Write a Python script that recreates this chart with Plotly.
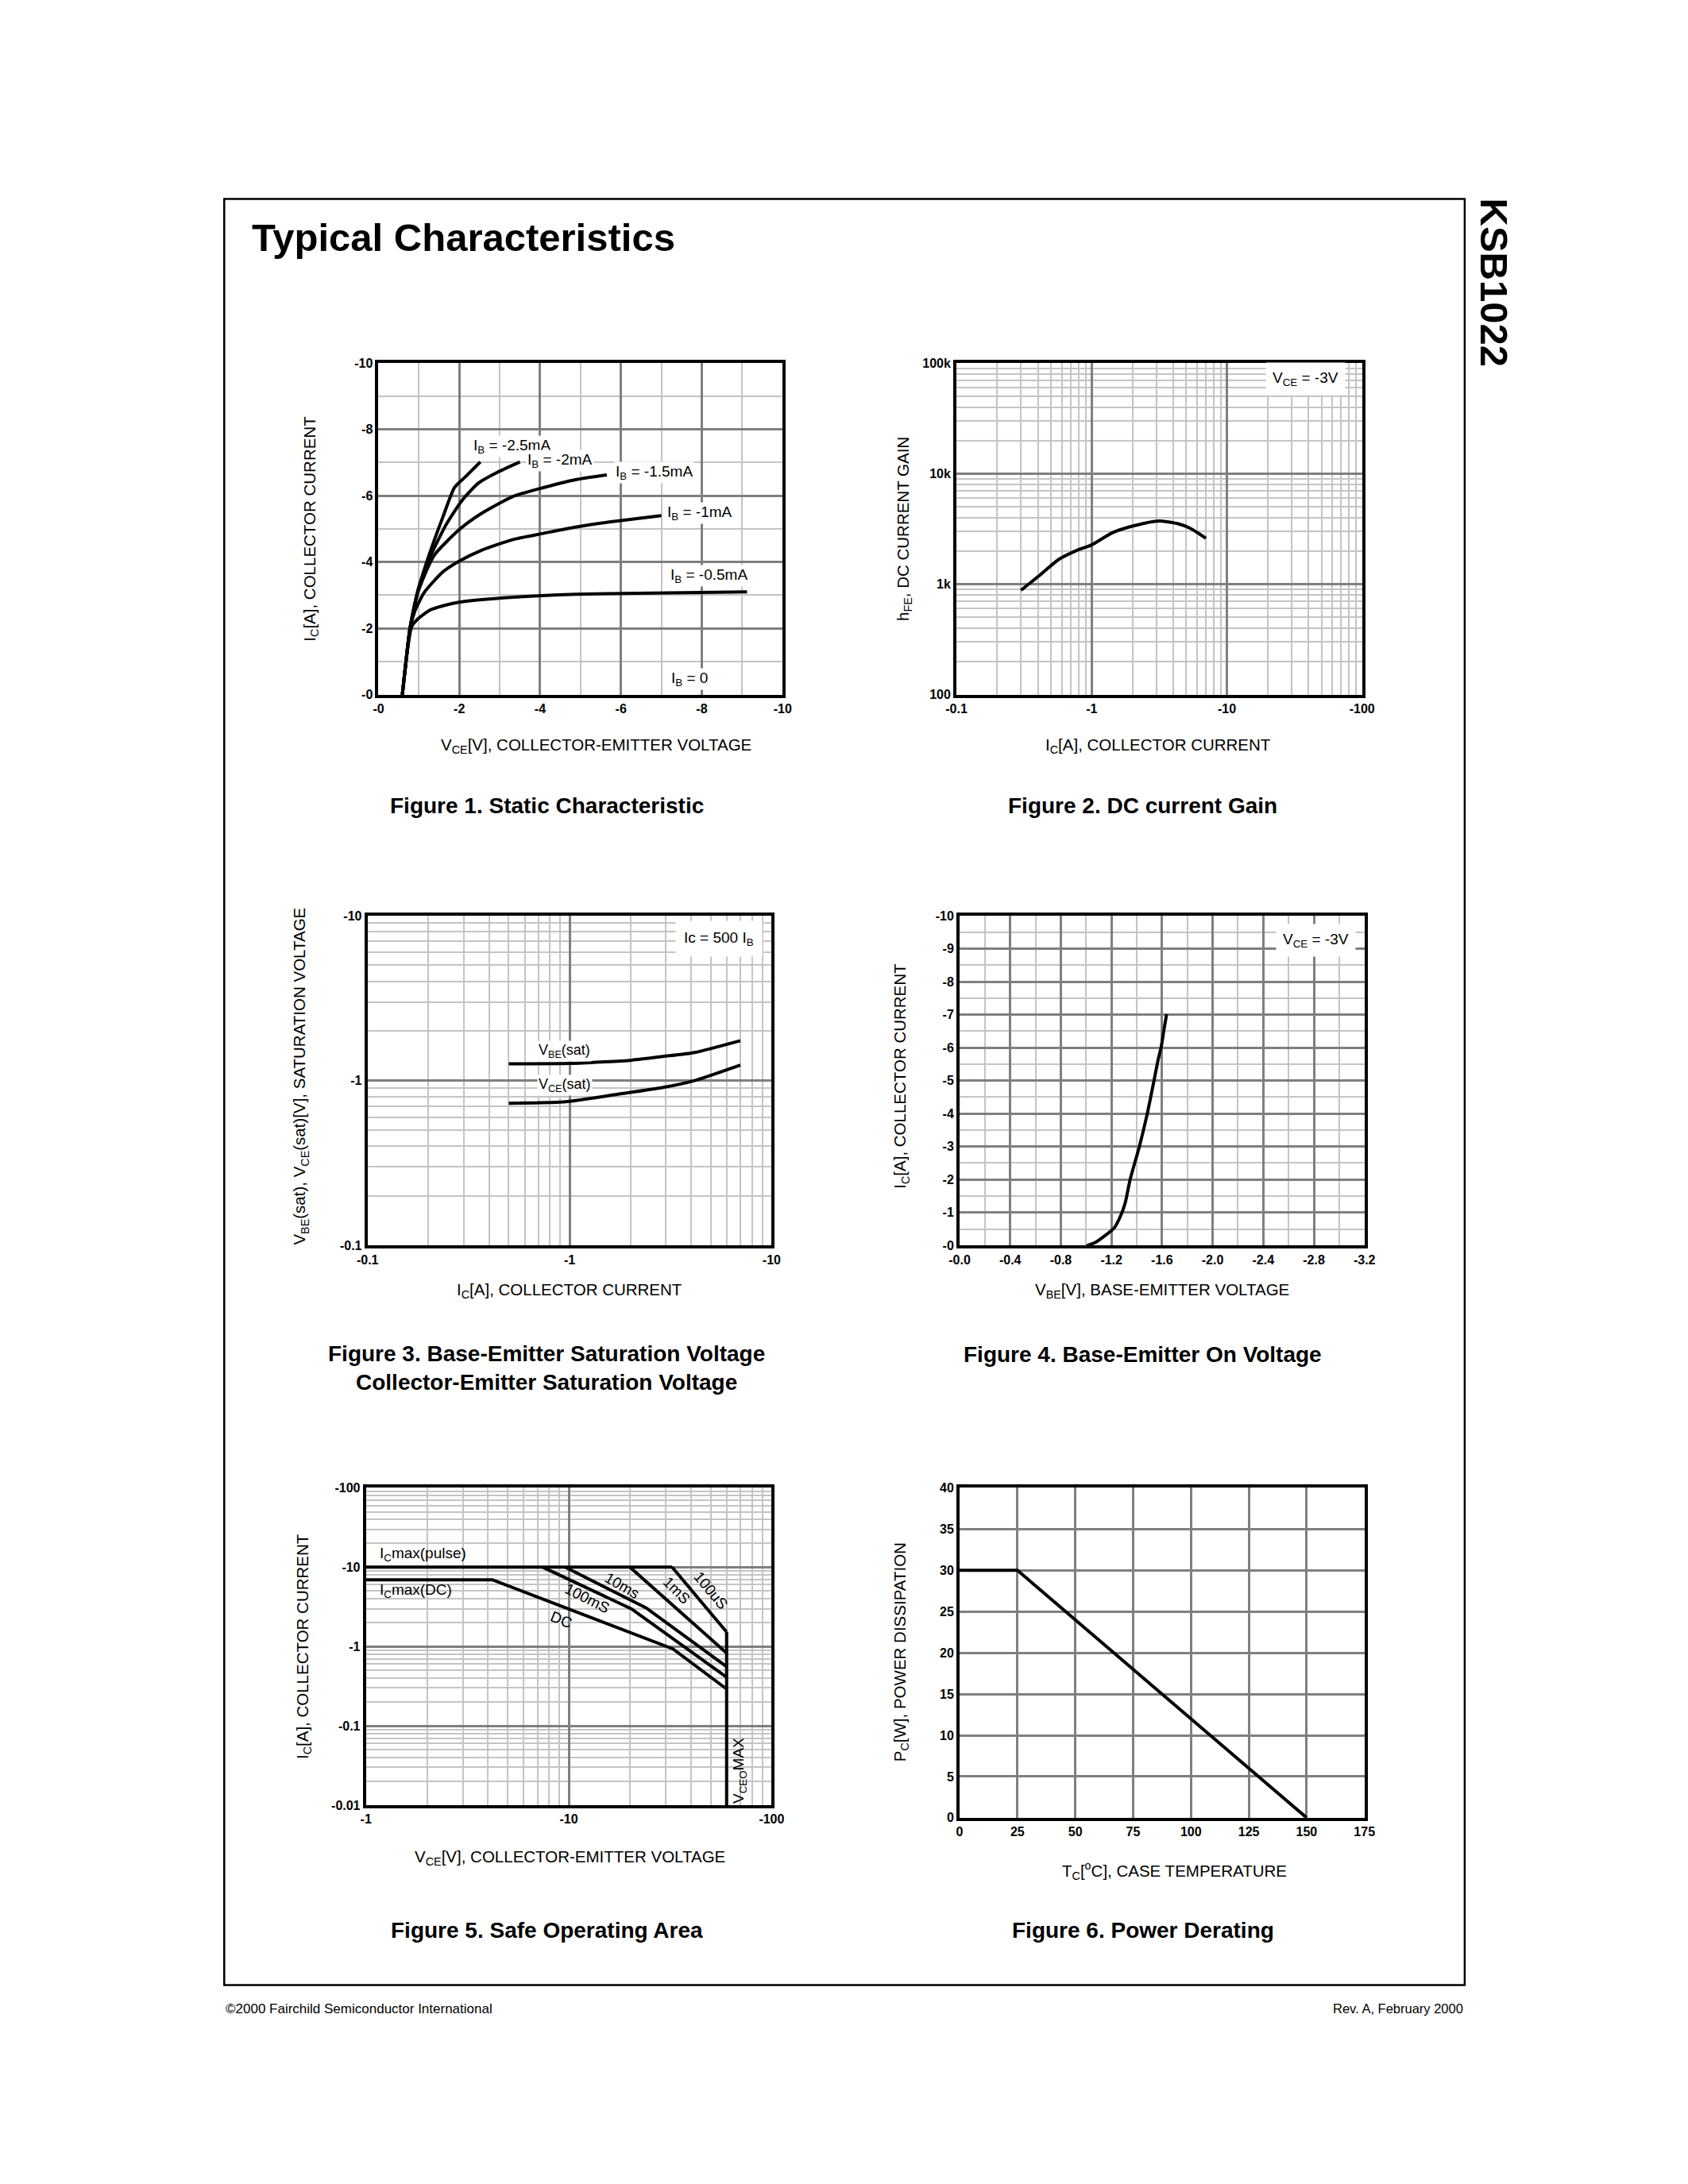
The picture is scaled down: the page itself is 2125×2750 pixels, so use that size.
import math
import plotly.graph_objects as go

W, H = 2125, 2750
FONT = "Liberation Sans, Arial, Helvetica, sans-serif"
TICKFONT = "Liberation Sans Narrow, Arial Narrow, Liberation Sans, Arial, sans-serif"

# ---------------- data (magnitudes; axis labels carry the sign) ----------------
# Figure 1: static characteristic, |VCE| [V] vs |IC| [A]
f1_ib25_vce = [0.59, 0.68, 0.78, 0.98, 1.29, 1.60, 1.88, 2.15, 2.52]
f1_ib25_ic = [0.0, 1.0, 2.0, 3.16, 4.35, 5.38, 6.25, 6.57, 7.02]
f1_ib20_vce = [0.59, 0.68, 0.78, 0.98, 1.29, 1.68, 2.07, 2.47, 2.93, 3.50]
f1_ib20_ic = [0.0, 1.0, 2.0, 3.16, 4.19, 5.14, 5.86, 6.38, 6.70, 7.02]
f1_ib15_vce = [0.59, 0.68, 0.78, 0.98, 1.37, 2.00, 2.54, 3.33, 4.10, 4.90, 5.65]
f1_ib15_ic = [0.0, 1.0, 2.0, 3.10, 4.19, 4.98, 5.46, 5.98, 6.25, 6.49, 6.63]
f1_ib10_vce = [0.59, 0.68, 0.78, 0.90, 1.13, 1.60, 2.00, 2.54, 3.33, 4.10, 4.90, 5.67, 7.00]
f1_ib10_ic = [0.0, 1.0, 2.0, 2.52, 3.08, 3.71, 4.03, 4.35, 4.68, 4.87, 5.06, 5.20, 5.40]
f1_ib05_vce = [0.59, 0.68, 0.82, 0.98, 1.29, 1.60, 2.00, 3.33, 4.90, 6.46, 9.12]
f1_ib05_ic = [0.0, 1.0, 2.05, 2.29, 2.56, 2.68, 2.79, 2.94, 3.03, 3.06, 3.10]
f1_labels = ["I<sub>B</sub> = -2.5mA", "I<sub>B</sub> = -2mA", "I<sub>B</sub> = -1.5mA",
             "I<sub>B</sub> = -1mA", "I<sub>B</sub> = -0.5mA", "I<sub>B</sub> = 0"]
f1_label_x = [2.31, 3.64, 5.83, 7.10, 7.18, 7.20]
f1_label_y = [7.50, 7.07, 6.71, 5.48, 3.58, 0.48]

# Figure 2: DC current gain, |IC| [A] vs hFE
f2_ic = [0.30, 0.41, 0.567, 0.78, 1.0, 1.41, 2.05, 3.14, 4.32, 5.36, 7.0]
f2_hfe = [880, 1195, 1665, 2025, 2265, 2905, 3375, 3730, 3530, 3195, 2597]

# Figure 3: saturation voltages, |IC| [A] vs |V| [V]
f3_ic_be = [0.5, 1.0, 2.03, 2.9, 4.16, 7.0]
f3_vbe = [1.265, 1.27, 1.33, 1.40, 1.48, 1.745]
f3_ic_ce = [0.5, 0.857, 1.0, 1.69, 2.9, 4.16, 7.0]
f3_vce = [0.728, 0.738, 0.748, 0.822, 0.908, 1.0, 1.24]

# Figure 4: base-emitter on voltage, |VBE| [V] vs |IC| [A]
f4_vbe = [1.006, 1.075, 1.149, 1.223, 1.273, 1.31, 1.347, 1.42, 1.483, 1.532, 1.569, 1.594, 1.614, 1.636]
f4_ic = [0.0, 0.1, 0.30, 0.54, 0.905, 1.31, 1.99, 2.99, 3.99, 4.91, 5.63, 6.03, 6.51, 7.01]

# Figure 5: safe operating area, |VCE| [V] vs |IC| [A]
f5_pulse_v = [1, 32.3]
f5_pulse_i = [10, 10]
f5_dc_v = [1, 4.2, 32.6, 60]
f5_dc_i = [6.93, 6.93, 0.934, 0.291]
f5_100ms_v = [7.45, 20.4, 60]
f5_100ms_i = [10, 2.97, 0.41]
f5_10ms_v = [9.6, 24.0, 60]
f5_10ms_i = [10, 3.08, 0.556]
f5_1ms_v = [20.0, 60]
f5_1ms_i = [10, 0.827]
f5_100us_v = [32.3, 60]
f5_100us_i = [10, 1.52]
f5_vceo_v = [60, 60]
f5_vceo_i = [0.01, 1.52]

# Figure 6: power derating, TC [degC] vs PC [W]
f6_tc = [0, 25, 150]
f6_pc = [30, 30, 0]

# ---------------- layout helpers ----------------
def px_x(x):
    return x / W

def px_y(y):
    return 1 - y / H

def log_minor(e0, e1):
    return [m * 10 ** e for e in range(e0, e1) for m in range(2, 10)]

MAJOR = "#7f7f7f"
MINOR = "#c4c4c4"

fig = go.Figure()

def add_axes(n, box, xcfg, ycfg):
    x0, x1, y0, y1 = box
    common = dict(showline=True, mirror=True, linecolor="black", linewidth=4,
                  ticks="", zeroline=False, showgrid=True, gridcolor=MAJOR, gridwidth=3,
                  tickfont=dict(family=TICKFONT, size=16, color="black", weight="bold"),
                  tickmode="array", fixedrange=True)
    xa = dict(common, domain=[px_x(x0), px_x(x1)], anchor="y%d" % n if n > 1 else "y", **xcfg)
    ya = dict(common, domain=[px_y(y1), px_y(y0)], anchor="x%d" % n if n > 1 else "x", **ycfg)
    key = "" if n == 1 else str(n)
    fig.update_layout(**{"xaxis" + key: xa, "yaxis" + key: ya})

def minor(vals, color=MINOR, width=1.5):
    return dict(tickmode="array", tickvals=vals, showgrid=True, gridcolor=color, gridwidth=width, ticks="")

LINE = dict(color="black", width=4)
SPL = dict(color="black", width=4, shape="spline", smoothing=0.6)
AF = dict(family=FONT, size=19, color="black")

# ---------------- Figure 1 ----------------
B1 = (461, 977, 444, 864)
add_axes(1, B1,
         dict(range=[0, 10], tickvals=[0, 2, 4, 6, 8, 10],
              ticktext=["-0", "-2", "-4", "-6", "-8", "-10"], minor=minor([1, 3, 5, 7, 9])),
         dict(range=[0, 10], tickvals=[0, 2, 4, 6, 8, 10],
              ticktext=["-0", "-2", "-4", "-6", "-8", "-10"], minor=minor([1, 3, 5, 7, 9])))
for xs, ys in [(f1_ib25_vce, f1_ib25_ic), (f1_ib20_vce, f1_ib20_ic), (f1_ib15_vce, f1_ib15_ic),
               (f1_ib10_vce, f1_ib10_ic), (f1_ib05_vce, f1_ib05_ic)]:
    fig.add_trace(go.Scatter(x=xs, y=ys, mode="lines", line=SPL,
                             xaxis="x", yaxis="y", showlegend=False, hoverinfo="skip"))
for t, lx, ly in zip(f1_labels, f1_label_x, f1_label_y):
    fig.add_annotation(x=lx, y=ly, xref="x", yref="y", text=t, showarrow=False, xanchor="left",
                       yanchor="middle", bgcolor="white", borderpad=1, font=AF)

# ---------------- Figure 2 ----------------
B2 = (1199, 1717, 444, 864)
add_axes(2, B2,
         dict(type="log", range=[-1, 2], tickvals=[0.1, 1, 10, 100],
              ticktext=["-0.1", "-1", "-10", "-100"], minor=minor(log_minor(-1, 2))),
         dict(type="log", range=[2, 5], tickvals=[100, 1000, 10000, 100000],
              ticktext=["100", "1k", "10k", "100k"], minor=minor(log_minor(2, 5))))
fig.add_trace(go.Scatter(x=f2_ic, y=f2_hfe, mode="lines", line=SPL,
                         xaxis="x2", yaxis="y2", showlegend=False, hoverinfo="skip"))
fig.add_annotation(x=math.log10(38), y=math.log10(72000), xref="x2", yref="y2",
                   text="V<sub>CE</sub> = -3V", showarrow=False, bgcolor="white", borderpad=8, font=AF)

# ---------------- Figure 3 ----------------
B3 = (447, 963, 1144, 1562)
add_axes(3, B3,
         dict(type="log", range=[-1, 1], tickvals=[0.1, 1, 10],
              ticktext=["-0.1", "-1", "-10"], minor=minor(log_minor(-1, 1))),
         dict(type="log", range=[-1, 1], tickvals=[0.1, 1, 10],
              ticktext=["-0.1", "-1", "-10"], minor=minor(log_minor(-1, 1))))
fig.add_trace(go.Scatter(x=f3_ic_be, y=f3_vbe, mode="lines", line=SPL,
                         xaxis="x3", yaxis="y3", showlegend=False, hoverinfo="skip"))
fig.add_trace(go.Scatter(x=f3_ic_ce, y=f3_vce, mode="lines", line=SPL,
                         xaxis="x3", yaxis="y3", showlegend=False, hoverinfo="skip"))
fig.add_annotation(x=math.log10(0.69), y=math.log10(1.51), xref="x3", yref="y3", text="V<sub>BE</sub>(sat)",
                   showarrow=False, xanchor="left", bgcolor="white", borderpad=1,
                   font=dict(AF, size=18))
fig.add_annotation(x=math.log10(0.69), y=math.log10(0.937), xref="x3", yref="y3", text="V<sub>CE</sub>(sat)",
                   showarrow=False, xanchor="left", bgcolor="white", borderpad=1,
                   font=dict(AF, size=18))
fig.add_annotation(x=math.log10(9.0), y=math.log10(7.27), xref="x3", yref="y3", text="Ic = 500 I<sub>B</sub>",
                   showarrow=False, xanchor="right", bgcolor="white", borderpad=10, font=AF)

# ---------------- Figure 4 ----------------
B4 = (1203, 1720, 1144, 1562)
x4 = [0.0, 0.4, 0.8, 1.2, 1.6, 2.0, 2.4, 2.8, 3.2]
x4_text = ["-0.0", "-0.4", "-0.8", "-1.2", "-1.6", "-2.0", "-2.4", "-2.8", "-3.2"]
y4 = list(range(0, 11))
y4_text = ["-%d" % v for v in y4]
add_axes(4, B4,
         dict(range=[0, 3.2], tickvals=x4, ticktext=x4_text,
              minor=minor([0.2, 0.6, 1.0, 1.4, 1.8, 2.2, 2.6, 3.0])),
         dict(range=[0, 10], tickvals=y4, ticktext=y4_text,
              minor=minor([v + 0.5 for v in range(0, 10)])))
fig.add_trace(go.Scatter(x=f4_vbe, y=f4_ic, mode="lines", line=SPL,
                         xaxis="x4", yaxis="y4", showlegend=False, hoverinfo="skip"))
fig.add_annotation(x=2.817, y=9.24, xref="x4", yref="y4", text="V<sub>CE</sub> = -3V",
                   showarrow=False, bgcolor="white", borderpad=8, font=AF)

# ---------------- Figure 5 ----------------
B5 = (445, 963, 1869, 2271)
add_axes(5, B5,
         dict(type="log", range=[0, 2], tickvals=[1, 10, 100],
              ticktext=["-1", "-10", "-100"], minor=minor(log_minor(0, 2))),
         dict(type="log", range=[-2, 2], tickvals=[0.01, 0.1, 1, 10, 100],
              ticktext=["-0.01", "-0.1", "-1", "-10", "-100"], minor=minor(log_minor(-2, 2))))
for xs, ys in [(f5_pulse_v, f5_pulse_i), (f5_dc_v, f5_dc_i), (f5_100ms_v, f5_100ms_i),
               (f5_10ms_v, f5_10ms_i), (f5_1ms_v, f5_1ms_i), (f5_100us_v, f5_100us_i),
               (f5_vceo_v, f5_vceo_i)]:
    fig.add_trace(go.Scatter(x=xs, y=ys, mode="lines", line=LINE,
                             xaxis="x5", yaxis="y5", showlegend=False, hoverinfo="skip"))
f5_ann = [("I<sub>C</sub>max(pulse)", 1.15, 14.6, 0, "left"),
          ("I<sub>C</sub>max(DC)", 1.15, 5.06, 0, "left"),
          ("10ms", 18.3, 5.9, 30, "center"),
          ("100mS", 12.3, 4.03, 27, "center"),
          ("DC", 9.2, 2.19, 22, "center"),
          ("1mS", 34.0, 5.06, 45, "center"),
          ("100uS", 50.0, 5.06, 50, "center"),
          ("V<sub>CEO</sub>MAX", 69.5, 0.027, -90, "center")]
for t, ax_, ay_, ang, xa in f5_ann:
    fig.add_annotation(x=math.log10(ax_), y=math.log10(ay_), xref="x5", yref="y5", text=t,
                       showarrow=False, textangle=ang, xanchor=xa, font=AF)

# ---------------- Figure 6 ----------------
B6 = (1203, 1720, 1869, 2287)
add_axes(6, B6,
         dict(range=[0, 175], tickvals=[0, 25, 50, 75, 100, 125, 150, 175],
              ticktext=["0", "25", "50", "75", "100", "125", "150", "175"]),
         dict(range=[0, 40], tickvals=[0, 5, 10, 15, 20, 25, 30, 35, 40],
              ticktext=["0", "5", "10", "15", "20", "25", "30", "35", "40"]))
fig.add_trace(go.Scatter(x=f6_tc, y=f6_pc, mode="lines", line=LINE,
                         xaxis="x6", yaxis="y6", showlegend=False, hoverinfo="skip"))

# ---------------- axis titles & captions ----------------
TF = dict(family=FONT, size=20.5, color="black")
CF = dict(family=FONT, size=28, color="black", weight="bold")

def paper_text(text, x, y, font, angle=0, xanchor="center"):
    fig.add_annotation(x=px_x(x), y=px_y(y), xref="paper", yref="paper", text=text,
                       showarrow=False, textangle=angle, xanchor=xanchor, yanchor="middle", font=font)

# x titles
paper_text("V<sub>CE</sub>[V], COLLECTOR-EMITTER VOLTAGE", 739, 929, TF)
paper_text("I<sub>C</sub>[A], COLLECTOR CURRENT", 1457, 929, TF)
paper_text("I<sub>C</sub>[A], COLLECTOR CURRENT", 705, 1619, TF)
paper_text("V<sub>BE</sub>[V], BASE-EMITTER VOLTAGE", 1462, 1619, TF)
paper_text("V<sub>CE</sub>[V], COLLECTOR-EMITTER VOLTAGE", 705, 2337, TF)
paper_text("T<sub>C</sub>[<sup>o</sup>C], CASE TEMPERATURE", 1477, 2354, TF)
# y titles
paper_text("I<sub>C</sub>[A], COLLECTOR CURRENT", 374, 654, TF, -90)
paper_text("h<sub>FE</sub>, DC CURRENT GAIN", 1132, 654, TF, -90)
paper_text("V<sub>BE</sub>(sat), V<sub>CE</sub>(sat)[V], SATURATION VOLTAGE", 361, 1347, TF, -90)
paper_text("I<sub>C</sub>[A], COLLECTOR CURRENT", 1128, 1347, TF, -90)
paper_text("I<sub>C</sub>[A], COLLECTOR CURRENT", 365, 2070, TF, -90)
paper_text("P<sub>C</sub>[W], POWER DISSIPATION", 1128, 2077, TF, -90)
# captions
paper_text("Figure 1. Static Characteristic", 676, 1005, CF)
paper_text("Figure 2. DC current Gain", 1437, 1005, CF)
paper_text("Figure 3. Base-Emitter Saturation Voltage<br>Collector-Emitter Saturation Voltage", 676, 1717, CF)
paper_text("Figure 4. Base-Emitter On Voltage", 1437, 1700, CF)
paper_text("Figure 5. Safe Operating Area", 676, 2430, CF)
paper_text("Figure 6. Power Derating", 1437, 2430, CF)

# page header / footer
paper_text("Typical Characteristics", 297, 285, dict(family=FONT, size=49, color="black", weight="bold"),
           xanchor="left")
paper_text("KSB1022", 1886, 342, dict(family=FONT, size=49, color="black", weight="bold"), angle=90)
paper_text("©2000 Fairchild Semiconductor International", 264, 2529, dict(family=FONT, size=17, color="black"),
           xanchor="left")
paper_text("Rev. A, February 2000", 1848, 2529, dict(family=FONT, size=16.5, color="black"), xanchor="right")

fig.add_shape(type="rect", xref="paper", yref="paper", x0=px_x(264), x1=px_x(1848),
              y0=px_y(2499), y1=px_y(236), line=dict(color="black", width=2.5), fillcolor="rgba(0,0,0,0)")

fig.update_layout(width=W, height=H, margin=dict(l=0, r=0, t=0, b=0),
                  paper_bgcolor="white", plot_bgcolor="white", showlegend=False)

fig.write_html("out.html")
